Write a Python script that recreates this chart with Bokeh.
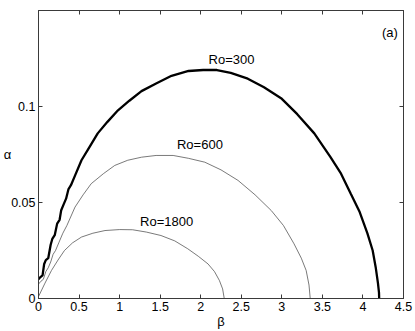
from bokeh.plotting import figure
from bokeh.models import Range1d, FixedTicker, Label, LinearAxis
from bokeh.embed import file_html
from bokeh.resources import INLINE

# ---- data ----
beta_300 = [0, 0.02, 0.05, 0.07, 0.09, 0.12, 0.15, 0.17, 0.2, 0.23, 0.26, 0.28, 0.31, 0.34, 0.37, 0.4,
            0.45, 0.53, 0.63, 0.73, 0.85, 0.98, 1.12, 1.27, 1.45, 1.64, 1.85, 2.03, 2.2, 2.37, 2.58,
            2.78, 3.0, 3.19, 3.4, 3.6, 3.73, 3.85, 3.96, 4.055, 4.12, 4.157, 4.185, 4.198, 4.2]
alpha_300 = [0.010, 0.011, 0.012, 0.018, 0.020, 0.021, 0.028, 0.031, 0.033, 0.039, 0.041, 0.046, 0.049,
             0.052, 0.057, 0.059, 0.064, 0.072, 0.079, 0.086, 0.092, 0.098, 0.103, 0.108, 0.112, 0.116,
             0.1185, 0.119, 0.119, 0.1175, 0.1145, 0.110, 0.104, 0.096, 0.086, 0.0736, 0.065, 0.0545,
             0.045, 0.0339, 0.025, 0.0163, 0.008, 0.003, 0.0]

beta_600 = [0, 0.03, 0.06, 0.09, 0.12, 0.15, 0.18, 0.21, 0.25, 0.3, 0.35, 0.45, 0.55, 0.65, 0.8, 0.94,
            1.1, 1.27, 1.45, 1.66, 1.85, 2.05, 2.25, 2.46, 2.67, 2.87, 3.02, 3.15, 3.24, 3.30, 3.335, 3.35]
alpha_600 = [0.0075, 0.009, 0.010, 0.014, 0.016, 0.019, 0.023, 0.025, 0.029, 0.034, 0.038, 0.0476,
             0.054, 0.0598, 0.065, 0.0693, 0.072, 0.0736, 0.0745, 0.0745, 0.073, 0.071, 0.067, 0.0615,
             0.054, 0.0458, 0.038, 0.0285, 0.021, 0.0146, 0.007, 0.0]

beta_1800 = [0, 0.08, 0.16, 0.24, 0.32, 0.42, 0.53, 0.67, 0.82, 1.0, 1.16, 1.33, 1.51, 1.68, 1.84,
             1.97, 2.09, 2.17, 2.23, 2.27, 2.29]
alpha_1800 = [0.001, 0.008, 0.0146, 0.020, 0.025, 0.029, 0.032, 0.034, 0.0354, 0.0359, 0.0358, 0.0346,
              0.0328, 0.030, 0.0259, 0.022, 0.018, 0.014, 0.0094, 0.005, 0.0]

curve_labels = ["Ro=300", "Ro=600", "Ro=1800"]
x_ticks = [0, 0.5, 1, 1.5, 2, 2.5, 3, 3.5, 4, 4.5]
x_tick_labels = ["0", "0.5", "1", "1.5", "2", "2.5", "3", "3.5", "4", "4.5"]
y_ticks = [0, 0.05, 0.1]
y_tick_labels = ["0", "0.05", "0.1"]
x_title = "β"
y_title = "α"
panel_tag = "(a)"

FONT = "Liberation Sans"
FRAME = "#3a3a3a"

p = figure(width=415, height=331, output_backend="svg", toolbar_location=None,
           x_range=Range1d(0, 4.5), y_range=Range1d(0, 0.15),
           x_axis_label=x_title, y_axis_label=y_title,
           min_border_left=37, min_border_right=12, min_border_top=10, min_border_bottom=33)
p.grid.visible = False
p.outline_line_color = FRAME
p.outline_line_width = 1
p.background_fill_color = "white"
p.border_fill_color = "white"

def style_axis(ax, ticks, labels=None, standoff=3):
    ax.ticker = FixedTicker(ticks=ticks)
    ax.major_tick_in = 4
    ax.major_tick_out = 0
    ax.minor_tick_line_color = None
    ax.major_tick_line_color = FRAME
    ax.axis_line_color = FRAME
    if labels is not None:
        ax.major_label_overrides = {t: l for t, l in zip(ticks, labels)}
        ax.major_label_text_font = FONT
        ax.major_label_text_font_size = "12.5px"
        ax.major_label_text_color = "black"
        ax.major_label_standoff = standoff
        ax.axis_label_text_font = FONT
        ax.axis_label_text_font_size = "13px"
        ax.axis_label_text_font_style = "normal"
        ax.axis_label_text_color = "black"
        ax.axis_label_standoff = 0
    else:
        ax.major_label_text_font_size = "0px"
        ax.major_label_text_color = None
        ax.major_label_standoff = 0

xa, ya = p.xaxis[0], p.yaxis[0]
style_axis(xa, x_ticks, x_tick_labels, 3)
style_axis(ya, y_ticks, y_tick_labels, 3)
ya.axis_label_orientation = "horizontal"
ya.axis_label_standoff = -3

top_ax = LinearAxis()
style_axis(top_ax, x_ticks)
p.add_layout(top_ax, "above")
right_ax = LinearAxis()
style_axis(right_ax, y_ticks)
p.add_layout(right_ax, "right")

p.line(beta_300, alpha_300, line_color="black", line_width=2.3)
p.line(beta_600, alpha_600, line_color="#404040", line_width=0.7)
p.line(beta_1800, alpha_1800, line_color="#404040", line_width=0.7)

label_pos = [(2.38, 0.1245), (1.99, 0.0802), (1.58, 0.0401)]
for txt, (bx, ay) in zip(curve_labels, label_pos):
    p.add_layout(Label(x=bx, y=ay, text=txt, text_align="center", text_baseline="middle",
                       text_font=FONT, text_font_size="13px", text_color="black"))
p.add_layout(Label(x=4.43, y=0.1386, text=panel_tag, text_align="right", text_baseline="middle",
                   text_font=FONT, text_font_size="13px", text_color="black"))

open("out.html", "w").write(file_html(p, INLINE))
